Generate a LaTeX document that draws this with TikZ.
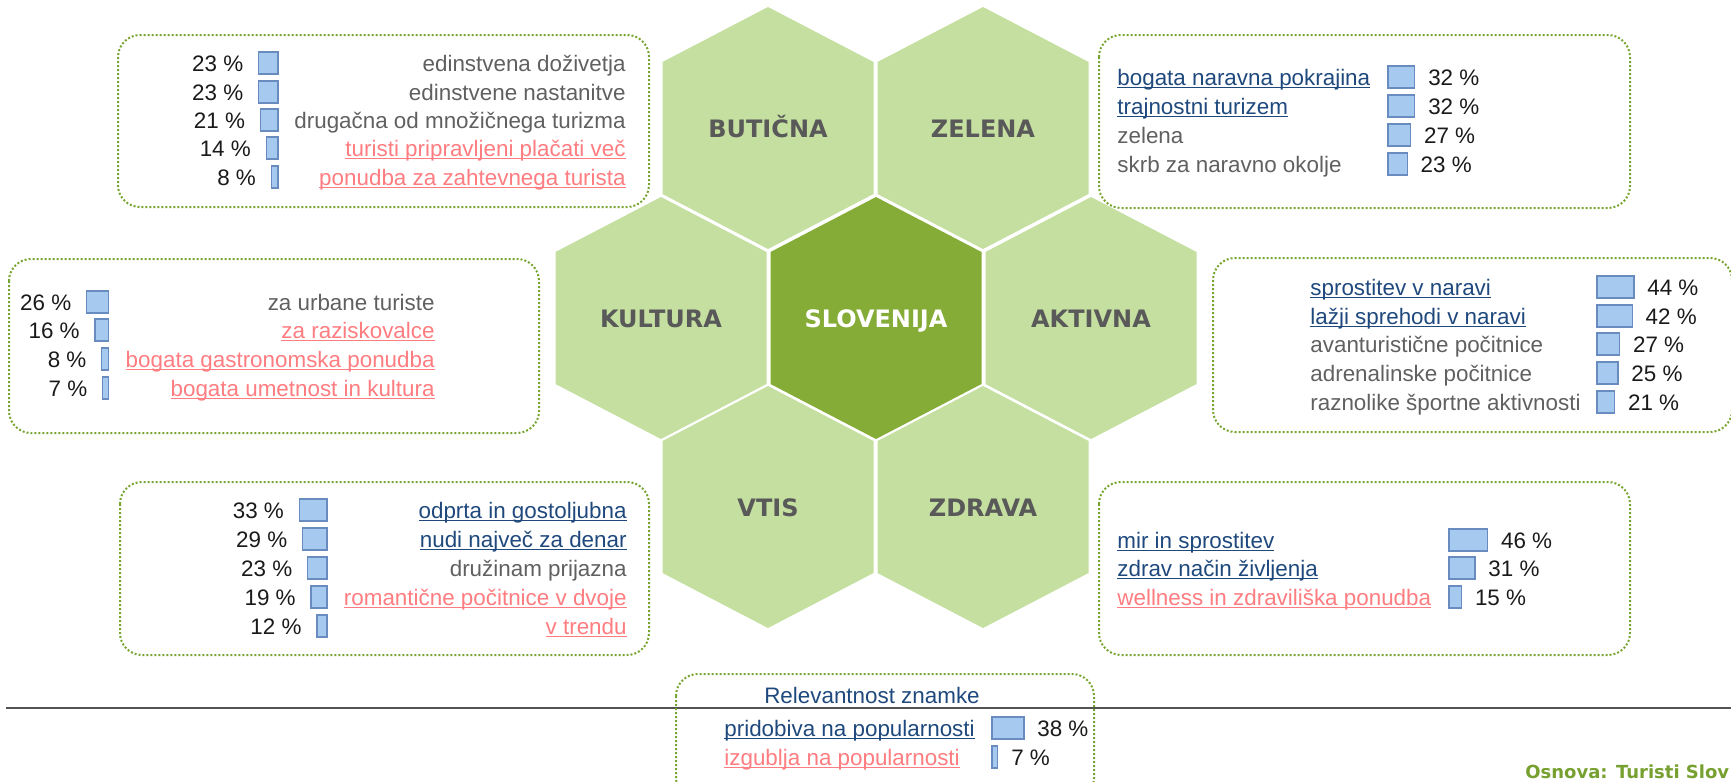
\documentclass[tikz,border=0pt]{standalone}
\usepackage{fontspec}
\setmainfont{Liberation Sans}
\newfontfamily\hexfont{DejaVu Sans}
\definecolor{hexlight}{RGB}{197,223,160}
\definecolor{hexdark}{RGB}{132,172,55}
\definecolor{hexlabel}{RGB}{89,89,89}
\definecolor{boxgreen}{RGB}{119,165,48}
\definecolor{barfill}{RGB}{166,201,239}
\definecolor{barline}{RGB}{104,140,192}
\definecolor{txtgray}{RGB}{96,96,96}
\definecolor{txtblue}{RGB}{31,73,125}
\definecolor{txtred}{RGB}{255,124,128}
\definecolor{txtnum}{RGB}{26,26,26}
\definecolor{basegreen}{RGB}{118,160,47}
\newcommand{\plainlbl}[1]{\textcolor{txtgray}{#1}}
\newcommand{\goodlbl}[1]{\textcolor{txtblue}{\underline{\smash{#1}}}}
\newcommand{\badlbl}[1]{\textcolor{txtred}{\underline{\smash{#1}}}}
\tikzset{
  hexcell/.style={fill=hexlight},
  hexlbl/.style={font=\hexfont\bfseries\fontsize{12}{14}\selectfont, text=hexlabel, inner sep=0},
  infobox/.style={draw=boxgreen, line width=1pt, dash pattern=on 1pt off 1pt, rounded corners=11pt},
  bar/.style={fill=barfill, draw=barline, line width=0.6pt},
  num/.style={font=\fontsize{11.2}{13}\selectfont, text=txtnum, inner sep=0},
  lbl/.style={font=\fontsize{11.2}{13}\selectfont, inner sep=0},
}
\begin{document}
\begin{tikzpicture}[x=0.5pt, y=-0.5pt]
	  \useasboundingbox (0,0) rectangle (1731,782);
	  \clip (0,0) rectangle (1731,782);
	  % honeycomb
	  \foreach \cx/\cy/\hname/\htxt in {768/128/hbut/BUTIČNA, 983/128/hzel/ZELENA, 661/318/hkul/KULTURA, 1091/318/hakt/AKTIVNA, 768/507/hvti/VTIS, 983/507/hzdr/ZDRAVA}{
	    \fill[hexcell] (\cx,\cy-121) -- (\cx+105.5,\cy-66) -- (\cx+105.5,\cy+66) -- (\cx,\cy+121) -- (\cx-105.5,\cy+66) -- (\cx-105.5,\cy-66) -- cycle;
	    \node[hexlbl, anchor=base] (\hname) at (\cx,\cy+9) {\htxt};
	  }
	  \fill[hexdark] (876,197) -- (981.5,252) -- (981.5,384) -- (876,439) -- (770.5,384) -- (770.5,252) -- cycle;
	  \node[hexlbl, text=white, anchor=base] (hslo) at (876,327) {SLOVENIJA};
	  % separator line
	  \draw[black!68, line width=1.2pt] (6,708) -- (1731,708);
	  % butična
	  \draw[infobox] (118,35) rectangle (649,207);
	  \foreach \y/\p/\t/\f [count=\i] in {63/23/edinstvena doživetja/\plainlbl, 92/23/edinstvene nastanitve/\plainlbl, 120/21/drugačna od množičnega turizma/\plainlbl, 148/14/turisti pripravljeni plačati več/\badlbl, 177/8/ponudba za zahtevnega turista/\badlbl}{
	    \draw[bar] (278-0.84*\p,\y-11) rectangle (278,\y+11);
	    \node[num, anchor=base east] (but-p\i) at (263-0.84*\p,\y+8) {\p~\%};
	    \node[lbl, anchor=base east] (but-t\i) at (626,\y+8) {\f{\t}};
	  }
	  % zelena
	  \draw[infobox] (1099,35) rectangle (1630,208);
	  \foreach \y/\p/\t/\f [count=\i] in {77/32/bogata naravna pokrajina/\goodlbl, 106/32/trajnostni turizem/\goodlbl, 135/27/zelena/\plainlbl, 164/23/skrb za naravno okolje/\plainlbl}{
	    \draw[bar] (1388,\y-11) rectangle (1388+0.84*\p,\y+11);
	    \node[num, anchor=base west] (zel-p\i) at (1401+0.84*\p,\y+8) {\p~\%};
	    \node[lbl, anchor=base west] (zel-t\i) at (1117,\y+8) {\f{\t}};
	  }
	  % kultura
	  \draw[infobox] (9,259) rectangle (539,433);
	  \foreach \y/\p/\t/\f [count=\i] in {302/26/za urbane turiste/\plainlbl, 330/16/za raziskovalce/\badlbl, 359/8/bogata gastronomska ponudba/\badlbl, 388/7/bogata umetnost in kultura/\badlbl}{
	    \draw[bar] (108.5-0.84*\p,\y-11) rectangle (108.5,\y+11);
	    \node[num, anchor=base east] (kul-p\i) at (93.5-0.84*\p,\y+8) {\p~\%};
	    \node[lbl, anchor=base east] (kul-t\i) at (435,\y+8) {\f{\t}};
	  }
	  % aktivna
	  \draw[infobox] (1213,258) rectangle (1732,432);
	  \foreach \y/\p/\t/\f [count=\i] in {287/44/sprostitev v naravi/\goodlbl, 316/42/lažji sprehodi v naravi/\goodlbl, 344/27/avanturistične počitnice/\plainlbl, 373/25/adrenalinske počitnice/\plainlbl, 402/21/raznolike športne aktivnosti/\plainlbl}{
	    \draw[bar] (1597,\y-11) rectangle (1597+0.84*\p,\y+11);
	    \node[num, anchor=base west] (akt-p\i) at (1610+0.84*\p,\y+8) {\p~\%};
	    \node[lbl, anchor=base west] (akt-t\i) at (1310,\y+8) {\f{\t}};
	  }
	  % vtis
	  \draw[infobox] (120,482) rectangle (649,655);
	  \foreach \y/\p/\t/\f [count=\i] in {510/33/odprta in gostoljubna/\goodlbl, 539/29/nudi največ za denar/\goodlbl, 568/23/družinam prijazna/\plainlbl, 597/19/romantične počitnice v dvoje/\badlbl, 626/12/v trendu/\badlbl}{
	    \draw[bar] (327-0.84*\p,\y-11) rectangle (327,\y+11);
	    \node[num, anchor=base east] (vti-p\i) at (312-0.84*\p,\y+8) {\p~\%};
	    \node[lbl, anchor=base east] (vti-t\i) at (627,\y+8) {\f{\t}};
	  }
	  % zdrava
	  \draw[infobox] (1099,482) rectangle (1630,655);
	  \foreach \y/\p/\t/\f [count=\i] in {540/46/mir in sprostitev/\goodlbl, 568/31/zdrav način življenja/\goodlbl, 597/15/wellness in zdraviliška ponudba/\badlbl}{
	    \draw[bar] (1449,\y-11) rectangle (1449+0.84*\p,\y+11);
	    \node[num, anchor=base west] (zdr-p\i) at (1462+0.84*\p,\y+8) {\p~\%};
	    \node[lbl, anchor=base west] (zdr-t\i) at (1117,\y+8) {\f{\t}};
	  }
	  % relevantnost
	  \draw[infobox] (676,674) rectangle (1094,800);
	  \node[lbl, text=txtblue, anchor=base] (rel) at (872,703) {Relevantnost znamke};
	  \foreach \y/\p/\t/\f [count=\i] in {728/38/pridobiva na popularnosti/\goodlbl, 757/7/izgublja na popularnosti/\badlbl}{
	    \draw[bar] (992,\y-11) rectangle (992+0.84*\p,\y+11);
	    \node[num, anchor=base west] (rel-p\i) at (1005+0.84*\p,\y+8) {\p~\%};
	    \node[lbl, anchor=base west] (rel-t\i) at (724,\y+8) {\f{\t}};
	  }
	  \node[font=\hexfont\bfseries\fontsize{9}{11}\selectfont, text=basegreen, anchor=base west, inner sep=0] (osnova) at (1525,778) {Osnova: Turisti Slov};
	\end{tikzpicture}
\end{document}
